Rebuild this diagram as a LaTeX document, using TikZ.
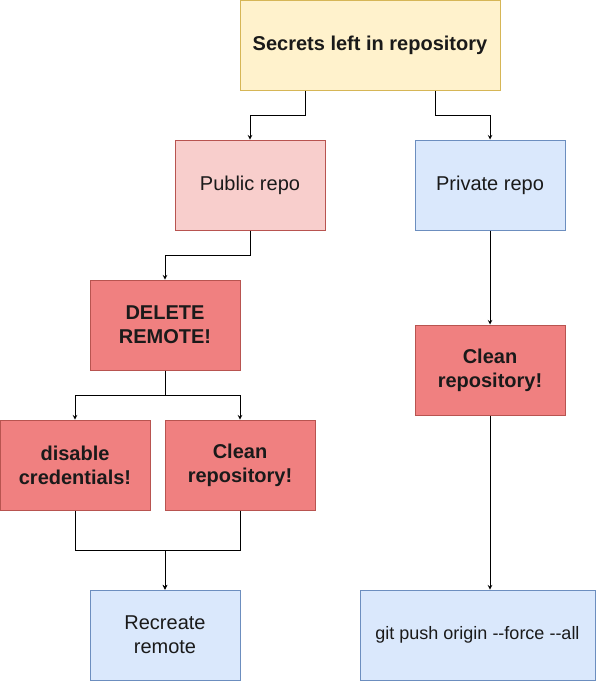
\documentclass[tikz,border=0pt]{standalone}
\usepackage{fontspec}
\setmainfont{Liberation Sans}
\usetikzlibrary{positioning}
\tikzset{>=stealth}
\definecolor{yelfill}{HTML}{FFF2CC}
\definecolor{yeldraw}{HTML}{D6B656}
\definecolor{pinkfill}{HTML}{F8CECC}
\definecolor{reddraw}{HTML}{B85450}
\definecolor{redfill}{HTML}{F08080}
\definecolor{bluefill}{HTML}{DAE8FC}
\definecolor{bluedraw}{HTML}{6C8EBF}
\definecolor{txt}{HTML}{1A1A1A}

\begin{document}
\begin{tikzpicture}[
	x=1pt, y=-1pt,
	box/.style = {% all boxes
		draw, line width=1pt, minimum width=150pt, minimum height=90pt,
		inner sep=2pt, align=center, text=txt,
		font=\fontsize{20}{24}\selectfont,},
	warn/.style = {box, fill=redfill, draw=reddraw, font=\fontsize{20}{24}\selectfont\bfseries},
	pub/.style = {box, fill=pinkfill, draw=reddraw},
	safe/.style = {box, fill=bluefill, draw=bluedraw},
	link/.style = {->, line width=1pt},
	]
	\useasboundingbox (0,0) rectangle (596,681);

	% boxes
	\node[box, fill=yelfill, draw=yeldraw, minimum width=260pt,
		font=\fontsize{20}{24}\selectfont\bfseries] (secrets) at (370,45) {Secrets left in repository};
	\node[pub] (public) at (250,185) {Public repo};
	\node[safe] (private) at (490,185) {Private repo};
	\node[warn] (delete) at (165,325) {DELETE\\REMOTE!};
	\node[warn] (cleanR) at (490,370) {Clean\\repository!};
	\node[warn] (disable) at (75,465) {disable\\credentials!};
	\node[warn] (cleanL) at (240,465) {Clean\\repository!};
	\node[safe] (recreate) at (165,635) {Recreate\\remote};
	\node[safe, minimum width=235pt, font=\fontsize{18}{22}\selectfont]
		(push) at (477.5,635) {git push origin \mbox{-}\mbox{-}force \mbox{-}\mbox{-}all};

	% connectors
	\draw[link] ([xshift=-65pt]secrets.south) -- ++(0,25) -| (public.north);
	\draw[link] ([xshift=65pt]secrets.south) -- ++(0,25) -| (private.north);
	\draw[link] (public.south) -- ++(0,25) -| (delete.north);
	\draw[link] (delete.south) -- ++(0,25) -| (disable.north);
	\draw[link] (delete.south) -- ++(0,25) -| (cleanL.north);
	\draw[link] (disable.south) -- ++(0,40) -| (recreate.north);
	\draw[link] (cleanL.south) -- ++(0,40) -| (recreate.north);
	\draw[link] (private.south) -- (cleanR.north);
	\draw[link] (cleanR.south) -- (cleanR.south |- push.north);

\end{tikzpicture}
\end{document}
